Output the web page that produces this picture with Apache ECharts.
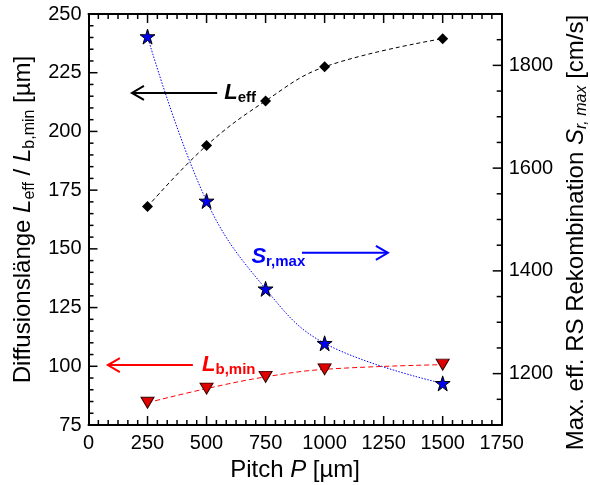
<!DOCTYPE html>
<html><head><meta charset="utf-8">
<script src="https://cdn.jsdelivr.net/npm/echarts@6/dist/echarts.min.js"></script>
<style>html,body{margin:0;padding:0;background:#fff}#c{width:590px;height:485px}</style>
</head><body><div id="c"></div>
<script>
const pitch = [250, 500, 750, 1000, 1500];
const Leff = [168, 194, 213, 227.5, 239.5];
const Lbmin = [84.5, 90.5, 95.5, 98.7, 100.7];
const Srmax = [1856, 1536, 1365, 1259, 1181];
const rightLabels = [1200, 1400, 1600, 1800];

const FF = 'Liberation Sans, Arial, sans-serif';
const chart = echarts.init(document.getElementById('c'));
const pairs = (ys) => pitch.map((x, i) => [x, ys[i]]);
const star = 'path://M50,2 L61,37 L98,37 L68,59 L79,95 L50,73 L21,95 L32,59 L2,37 L39,37 Z';
const ls = () => ({show: true, onZero: false, lineStyle: {color: '#000', width: 2}});
const fmt = (v) => String(v);
const X = {min: 0, max: 1750, step: 250, minor: 6};
const YL = {min: 75, max: 250, step: 25, minor: 5};
const YR = {min: 1100, max: 1900, minorStep: 50};

const option = {
  animation: false,
  grid: {left: 88.5, right: 88.3, top: 14, bottom: 60, containLabel: false, outerBoundsMode: 'none'},
  xAxis: [{
    type: 'value', min: X.min, max: X.max, interval: X.step, position: 'bottom',
    axisLine: ls(), axisTick: {show: false}, splitLine: {show: false},
    axisLabel: {color: '#000', fontFamily: FF, fontSize: 20, margin: 8, formatter: fmt},
    name: '{t|Pitch }{i|P}{t| [µm]}', nameLocation: 'middle', nameGap: 30,
    nameTextStyle: {color: '#000', fontFamily: FF, fontSize: 24, rich: {
      t: {fontFamily: FF, fontSize: 24, color: '#000'},
      i: {fontFamily: FF, fontSize: 24, color: '#000', fontStyle: 'italic'}}}
  }, {
    type: 'value', min: X.min, max: X.max, interval: X.step, position: 'top',
    axisLine: ls(), axisTick: {show: false}, splitLine: {show: false}, axisLabel: {show: false}
  }],
  yAxis: [{
    type: 'value', min: YL.min, max: YL.max, interval: YL.step, position: 'left',
    axisLine: ls(), axisTick: {show: false}, splitLine: {show: false},
    axisLabel: {color: '#000', fontFamily: FF, fontSize: 20, margin: 7, formatter: fmt},
    name: '{t|Diffusionslänge }{i|L}{s|eff}{t| / }{i|L}{s|b,min}{t| [µm]}',
    nameLocation: 'middle', nameGap: 51, nameRotate: 90,
    nameTextStyle: {color: '#000', fontFamily: FF, fontSize: 24, rich: {
      t: {fontFamily: FF, fontSize: 24, color: '#000', lineHeight: 27},
      i: {fontFamily: FF, fontSize: 24, color: '#000', fontStyle: 'italic', lineHeight: 27},
      s: {fontFamily: FF, fontSize: 16, color: '#000', lineHeight: 16, verticalAlign: 'bottom'}}}
  }, {
    type: 'value', min: YR.min, max: YR.max, interval: YR.minorStep, position: 'right',
    axisLine: ls(), axisTick: {show: false}, splitLine: {show: false},
    axisLabel: {color: '#000', fontFamily: FF, fontSize: 20, margin: 7,
      formatter: (v) => rightLabels.indexOf(v) >= 0 ? String(v) : ''},
    name: '{t|Max. eff. RS Rekombination }{i|S}{s|r, max}{t| [cm/s]}',
    nameLocation: 'middle', nameGap: 60, nameRotate: 90,
    nameTextStyle: {color: '#000', fontFamily: FF, fontSize: 24, padding: [0, 26, 0, 0], rich: {
      t: {fontFamily: FF, fontSize: 24, color: '#000', lineHeight: 27},
      i: {fontFamily: FF, fontSize: 24, color: '#000', fontStyle: 'italic', lineHeight: 27},
      s: {fontFamily: FF, fontSize: 16, color: '#000', fontStyle: 'italic', lineHeight: 16, verticalAlign: 'bottom'}}}
  }],
  series: [{
    name: 'Leff', type: 'line', xAxisIndex: 0, yAxisIndex: 0, data: pairs(Leff),
    smooth: 0.4, symbol: 'diamond', symbolSize: 11,
    itemStyle: {color: '#000'}, lineStyle: {color: '#000', width: 1, type: [4, 3]}, z: 3
  }, {
    name: 'Lbmin', type: 'line', xAxisIndex: 0, yAxisIndex: 0, data: pairs(Lbmin),
    smooth: 0.4, symbol: 'triangle', symbolRotate: 180, symbolSize: [13, 11],
    itemStyle: {color: '#e00000', borderColor: '#300', borderWidth: 1},
    lineStyle: {color: '#ff0000', width: 1, type: [5, 3]}, z: 3
  }, {
    name: 'Srmax', type: 'line', xAxisIndex: 0, yAxisIndex: 1, data: pairs(Srmax),
    smooth: 0.4, symbol: star, symbolSize: 15,
    itemStyle: {color: '#0000ee', borderColor: '#000', borderWidth: 1},
    lineStyle: {color: '#0000ff', width: 1, type: [1.5, 1.5]}, z: 4
  }]
};
chart.setOption(option);

function px(x, y) { return chart.convertToPixel({xAxisIndex: 0, yAxisIndex: 0}, [x, y]); }
function pxR(x, y) { return chart.convertToPixel({xAxisIndex: 0, yAxisIndex: 1}, [x, y]); }
const tickLine = (x1, y1, x2, y2) => ({type: 'polyline', z: 10,
  shape: {points: [[x1, y1], [x2, y2]]}, style: {stroke: '#000', lineWidth: 1.5, fill: null}});

function ticks() {
  const out = [];
  const xs = (X.max - X.min) / X.step * X.minor;
  for (let i = 1; i < xs; i++) {
    const v = X.min + i * X.step / X.minor;
    const len = i % X.minor === 0 ? 9 : 5;
    const b = px(v, YL.min), t = px(v, YL.max);
    out.push(tickLine(b[0], b[1], b[0], b[1] - len));
    out.push(tickLine(t[0], t[1], t[0], t[1] + len));
  }
  const ys = (YL.max - YL.min) / YL.step * YL.minor;
  for (let i = 1; i < ys; i++) {
    const v = YL.min + i * YL.step / YL.minor;
    const len = i % YL.minor === 0 ? 9 : 5;
    const p = px(X.min, v);
    out.push(tickLine(p[0], p[1], p[0] + len, p[1]));
  }
  const rs = (YR.max - YR.min) / YR.minorStep;
  for (let i = 1; i < rs; i++) {
    const v = YR.min + i * YR.minorStep;
    const len = rightLabels.indexOf(v) >= 0 ? 9 : 5;
    const p = pxR(X.max, v);
    out.push(tickLine(p[0], p[1], p[0] - len, p[1]));
  }
  return out;
}
function arrow(x1, x2, y, color, headLeft) {
  const a = px(x1, y), b = px(x2, y);
  const tip = headLeft ? a : b, dir = headLeft ? 1 : -1;
  return [{
    type: 'polyline', z: 10, shape: {points: [a, b]}, style: {stroke: color, lineWidth: 2, fill: null}
  }, {
    type: 'polyline', z: 10,
    shape: {points: [[tip[0] + dir * 12, tip[1] - 7], tip, [tip[0] + dir * 12, tip[1] + 7]]},
    style: {stroke: color, lineWidth: 2, fill: null}
  }];
}
function label(x, y, main, sub, color) {
  const p = px(x, y);
  return {
    type: 'text', z: 10, x: p[0], y: p[1],
    style: {
      text: '{m|' + main + '}{s|' + sub + '}', verticalAlign: 'middle', align: 'left',
      rich: {
        m: {fontFamily: FF, fontSize: 22, fontWeight: 'bold', fontStyle: 'italic', fill: color, lineHeight: 24},
        s: {fontFamily: FF, fontSize: 15, fontWeight: 'bold', fill: color, lineHeight: 15, verticalAlign: 'bottom'}
      }
    }
  };
}
const g = ticks();
g.push(...arrow(184, 545, 216.4, '#000', true));
g.push(label(575, 216.4, 'L', 'eff', '#000'));
g.push(...arrow(904, 1268, 148.3, '#0000ff', false));
g.push(label(690, 146.5, 'S', 'r,max', '#0000ff'));
g.push(...arrow(82, 442, 100.5, '#ff0000', true));
g.push(label(481, 100.5, 'L', 'b,min', '#ff0000'));
chart.setOption({graphic: g});
</script></body></html>
